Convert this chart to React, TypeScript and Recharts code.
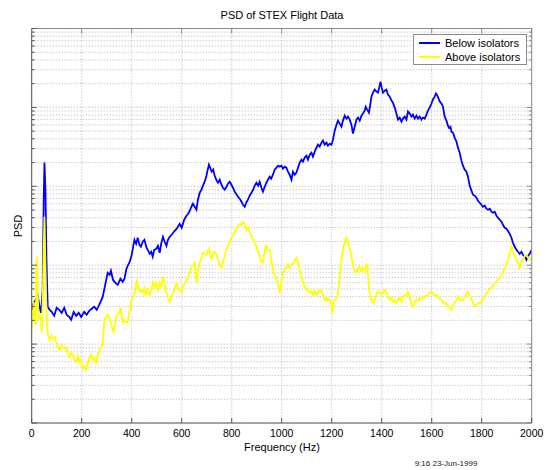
import React from 'react';
import { LineChart, Line, XAxis, YAxis, CartesianGrid, Legend } from 'recharts';

// Frequency (Hz), PSD
const belowIsolators: [number, number][] = [
  [0,0.0272],[8,0.0333],[16,0.0364],[24,0.0421],[30,0.0314],[37,0.0249],[44,0.0487],[48,0.676],[51,1.995],[55,0.906],[59,0.117],[64,0.0297],[72,0.0272],[80,0.0256],[90,0.0228],[100,0.0288],[110,0.0272],[120,0.0249],[130,0.0288],[140,0.0235],[150,0.0221],[158,0.0203],[168,0.0256],[178,0.0228],[188,0.0249],[198,0.0221],[210,0.0256],[220,0.0235],[230,0.0264],[240,0.028],[250,0.0297],[260,0.0272],[270,0.0314],[284,0.0397],[294,0.0564],[304,0.0801],[312,0.0755],[317,0.0849],[325,0.0653],[335,0.0598],[344,0.0564],[355,0.0672],[364,0.0616],[371,0.0672],[378,0.0875],[384,0.0983],[392,0.11],[400,0.1355],[411,0.21],[418,0.187],[424,0.223],[431,0.1815],[437,0.1714],[444,0.198],[451,0.21],[458,0.1714],[464,0.1567],[472,0.1396],[478,0.148],[484,0.128],[490,0.1567],[499,0.1615],[505,0.176],[512,0.1437],[518,0.187],[525,0.229],[532,0.198],[539,0.176],[545,0.21],[552,0.229],[560,0.243],[572,0.273],[580,0.29],[592,0.335],[600,0.298],[610,0.377],[619,0.424],[626,0.449],[632,0.49],[639,0.551],[645,0.601],[652,0.551],[659,0.505],[665,0.676],[672,0.83],[679,0.906],[685,1.018],[692,1.143],[699,1.361],[704,1.625],[709,1.88],[714,1.72],[720,1.53],[726,1.625],[732,1.361],[738,1.213],[745,1.11],[752,1.213],[759,1.047],[765,0.959],[772,0.906],[779,0.988],[785,1.079],[792,1.143],[799,1.047],[805,0.959],[812,0.854],[818,0.805],[825,0.738],[832,0.697],[839,0.638],[845,0.584],[852,0.551],[858,0.619],[865,0.676],[872,0.76],[879,0.83],[886,0.906],[892,1.018],[899,1.11],[906,1.018],[912,1.143],[919,0.959],[925,0.854],[932,0.988],[939,1.11],[945,1.213],[952,1.324],[958,1.248],[965,1.403],[972,1.625],[979,1.72],[986,1.824],[992,1.774],[999,1.824],[1005,1.671],[1012,1.774],[1019,1.72],[1025,1.53],[1032,1.403],[1039,1.213],[1045,1.53],[1052,1.403],[1059,1.489],[1065,1.72],[1072,1.995],[1079,2.18],[1085,2.05],[1092,2.31],[1099,2.44],[1105,2.18],[1112,2.52],[1119,2.67],[1125,2.38],[1132,2.75],[1139,3.09],[1145,3.37],[1152,3.18],[1159,3.57],[1165,3.79],[1172,3.37],[1179,3.57],[1185,3.27],[1192,3.47],[1199,3.37],[1205,3.9],[1212,5.07],[1218,5.87],[1225,6.8],[1232,6.22],[1239,5.7],[1245,6.8],[1252,7.87],[1259,7.21],[1265,7.64],[1272,7.0],[1279,6.05],[1285,4.65],[1292,5.7],[1299,7.0],[1305,7.43],[1312,6.8],[1319,7.87],[1325,8.34],[1332,9.1],[1336,10.2],[1342,9.38],[1349,8.59],[1355,11.2],[1359,13.7],[1365,15.4],[1372,16.8],[1379,15.9],[1385,15.4],[1390,17.8],[1395,21.2],[1400,17.8],[1405,15.4],[1412,16.3],[1419,16.8],[1425,14.5],[1432,13.7],[1439,12.2],[1445,11.5],[1452,9.94],[1459,8.34],[1465,7.0],[1472,7.43],[1479,6.61],[1485,7.21],[1492,7.64],[1499,7.0],[1505,8.85],[1512,8.34],[1519,7.64],[1525,8.11],[1532,7.21],[1539,7.87],[1545,7.21],[1552,7.64],[1559,7.0],[1565,7.43],[1572,7.21],[1579,8.11],[1585,9.1],[1592,9.94],[1599,11.2],[1605,12.6],[1612,13.7],[1617,15.0],[1621,14.5],[1626,13.3],[1632,11.9],[1639,11.2],[1645,10.2],[1652,7.64],[1659,6.8],[1665,5.87],[1669,5.54],[1675,5.7],[1679,4.93],[1685,4.79],[1692,4.14],[1699,3.68],[1705,3.09],[1712,2.67],[1719,2.11],[1725,1.824],[1732,1.625],[1739,1.53],[1745,1.324],[1752,1.018],[1758,0.906],[1765,0.782],[1772,0.76],[1779,0.717],[1785,0.656],[1792,0.619],[1799,0.584],[1805,0.551],[1812,0.567],[1819,0.52],[1825,0.505],[1832,0.52],[1839,0.476],[1845,0.462],[1852,0.476],[1859,0.424],[1865,0.4],[1872,0.377],[1879,0.356],[1885,0.326],[1892,0.298],[1899,0.29],[1905,0.273],[1912,0.25],[1919,0.223],[1925,0.192],[1932,0.1714],[1939,0.1567],[1945,0.148],[1952,0.1396],[1959,0.148],[1965,0.1355],[1972,0.128],[1979,0.117],[1985,0.1316],[1992,0.1396],[2000,0.1567]
];

const aboveIsolators: [number, number][] = [
  [0,0.0151],[4,0.0215],[8,0.0343],[12,0.0235],[16,0.0175],[20,0.128],[24,0.0487],[27,0.0203],[32,0.0228],[36,0.0215],[40,0.0139],[44,0.0364],[48,0.1567],[51,0.411],[54,0.1355],[58,0.0364],[62,0.0151],[66,0.0128],[71,0.0113],[78,0.0128],[84,0.0116],[92,0.0123],[100,0.01035],[111,0.00844],[120,0.00949],[130,0.00869],[137,0.00921],[144,0.00796],[151,0.00688],[158,0.00773],[165,0.0073],[171,0.00631],[177,0.00595],[184,0.00708],[190,0.00595],[197,0.00631],[204,0.00499],[210,0.00529],[217,0.00471],[224,0.00561],[231,0.00668],[237,0.0073],[244,0.00631],[250,0.00668],[257,0.00578],[264,0.00708],[271,0.00844],[277,0.00895],[284,0.00977],[288,0.0151],[291,0.0203],[298,0.0221],[304,0.0235],[310,0.0215],[316,0.0191],[322,0.0161],[328,0.0143],[333,0.0175],[337,0.0215],[344,0.0242],[351,0.0249],[356,0.0288],[361,0.0215],[366,0.0191],[371,0.0203],[378,0.0186],[384,0.0191],[391,0.0256],[397,0.0333],[403,0.0386],[408,0.0409],[414,0.0487],[421,0.0653],[427,0.0517],[432,0.046],[438,0.0487],[444,0.0447],[450,0.0517],[457,0.0421],[464,0.0487],[471,0.0421],[478,0.0487],[485,0.0598],[491,0.0517],[497,0.0598],[505,0.0487],[512,0.0598],[518,0.0532],[525,0.0713],[532,0.0564],[539,0.0447],[545,0.0386],[552,0.0343],[558,0.0397],[565,0.0447],[572,0.0501],[579,0.0598],[585,0.0517],[592,0.0473],[599,0.046],[605,0.0532],[612,0.058],[619,0.0634],[625,0.0692],[632,0.0825],[639,0.0927],[645,0.0983],[652,0.1072],[656,0.0755],[660,0.0598],[665,0.0825],[672,0.1072],[679,0.124],[685,0.1437],[692,0.1396],[699,0.1355],[705,0.1524],[709,0.1615],[714,0.1396],[719,0.117],[725,0.1396],[732,0.148],[739,0.1355],[745,0.117],[752,0.101],[759,0.0927],[765,0.11],[772,0.128],[779,0.1567],[785,0.176],[792,0.198],[799,0.223],[805,0.236],[812,0.265],[818,0.29],[825,0.316],[832,0.335],[839,0.326],[845,0.356],[849,0.345],[855,0.298],[859,0.281],[865,0.307],[872,0.265],[879,0.236],[885,0.21],[892,0.192],[899,0.1714],[905,0.148],[912,0.128],[918,0.11],[925,0.1072],[930,0.1396],[935,0.1714],[939,0.176],[945,0.1567],[952,0.1567],[958,0.117],[965,0.0875],[972,0.0733],[979,0.0672],[985,0.0581],[992,0.0447],[999,0.0616],[1005,0.0801],[1012,0.09],[1019,0.0954],[1025,0.101],[1032,0.0927],[1039,0.0983],[1045,0.1072],[1052,0.1137],[1059,0.124],[1065,0.11],[1072,0.0875],[1079,0.0713],[1085,0.0598],[1092,0.0532],[1099,0.0487],[1105,0.0501],[1112,0.0447],[1119,0.046],[1125,0.0421],[1132,0.0473],[1139,0.0421],[1145,0.046],[1152,0.0487],[1159,0.0487],[1165,0.0409],[1172,0.0364],[1179,0.0386],[1185,0.0353],[1192,0.0364],[1198,0.0333],[1203,0.0249],[1208,0.0343],[1214,0.0364],[1220,0.0386],[1225,0.0409],[1230,0.0616],[1235,0.0927],[1240,0.124],[1245,0.1567],[1250,0.187],[1255,0.21],[1259,0.223],[1265,0.198],[1270,0.1714],[1275,0.1567],[1280,0.124],[1285,0.101],[1290,0.0875],[1296,0.0801],[1302,0.0849],[1308,0.0954],[1313,0.09],[1319,0.0825],[1325,0.0927],[1332,0.0849],[1338,0.0983],[1342,0.101],[1346,0.0755],[1350,0.0487],[1356,0.0386],[1362,0.0343],[1368,0.0324],[1374,0.0386],[1379,0.0421],[1385,0.0473],[1392,0.0447],[1399,0.0421],[1405,0.0447],[1412,0.0487],[1419,0.0447],[1425,0.0397],[1432,0.0364],[1439,0.0386],[1445,0.0343],[1452,0.0364],[1459,0.0333],[1465,0.0364],[1472,0.0386],[1479,0.0343],[1485,0.0397],[1492,0.0421],[1499,0.0409],[1505,0.046],[1512,0.0397],[1519,0.0324],[1525,0.0297],[1532,0.0343],[1539,0.0364],[1545,0.0353],[1552,0.0386],[1559,0.0364],[1565,0.0386],[1572,0.0397],[1579,0.0409],[1585,0.0421],[1592,0.0447],[1599,0.046],[1605,0.0434],[1612,0.0409],[1619,0.0421],[1625,0.0397],[1632,0.0375],[1639,0.0364],[1645,0.0343],[1652,0.0324],[1659,0.0333],[1665,0.0305],[1672,0.0288],[1679,0.0272],[1685,0.0305],[1692,0.0333],[1699,0.0364],[1705,0.0397],[1712,0.0375],[1719,0.0353],[1725,0.0364],[1732,0.0397],[1739,0.0434],[1745,0.046],[1752,0.0421],[1759,0.0375],[1765,0.0333],[1772,0.0305],[1779,0.0314],[1785,0.0324],[1792,0.0333],[1799,0.0333],[1805,0.0364],[1812,0.0409],[1819,0.0447],[1825,0.046],[1832,0.0501],[1839,0.0517],[1845,0.0548],[1852,0.0598],[1859,0.0616],[1865,0.0653],[1872,0.0692],[1879,0.0713],[1885,0.0825],[1892,0.0927],[1899,0.101],[1905,0.117],[1912,0.1396],[1919,0.1714],[1925,0.148],[1932,0.128],[1939,0.117],[1945,0.11],[1952,0.0927],[1959,0.11],[1965,0.117],[1972,0.1316],[1979,0.1355],[1985,0.124],[1992,0.117],[2000,0.128]
];

const freqTicks = [0, 200, 400, 600, 800, 1000, 1200, 1400, 1600, 1800, 2000];
const psdDecades = [0.001, 0.01, 0.1, 1, 10];
const psdMultipliers = [1, 2, 3, 4, 5, 6, 7, 8, 9];
const psdTicks = [...psdDecades.flatMap((d) => psdMultipliers.map((m) => +(d * m).toPrecision(6))), 100];

const seriesNames = ['Below isolators', 'Above isolators'];
const seriesColors = ['#0000ff', '#ffff00'];

const TITLE = 'PSD of STEX Flight Data';
const X_LABEL = 'Frequency (Hz)';
const Y_LABEL = 'PSD';
const STAMP = '9:16 23-Jun-1999';

const belowData = belowIsolators.map(([f, v]) => ({ f, v }));
const aboveData = aboveIsolators.map(([f, v]) => ({ f, v }));

const FONT = '"Liberation Sans", Arial, Helvetica, sans-serif';
const AXIS_DARK = '#555555';
const AXIS_LIGHT = '#8a8a8a';

const isMajor = (v: number) => Math.abs(Math.log10(v) - Math.round(Math.log10(v))) < 1e-6;

const BottomTick = (props: any) => {
  const { x, y, payload } = props;
  return (
    <g>
      <line x1={x} y1={y} x2={x} y2={y - 5} stroke={AXIS_DARK} strokeWidth={1} />
      <text x={x} y={y + 10} textAnchor="middle" dominantBaseline="central" fontSize={10.5} fontFamily={FONT} fill="#000">
        {payload.value}
      </text>
    </g>
  );
};

const TopTick = (props: any) => {
  const { x, y } = props;
  return <line x1={x} y1={y} x2={x} y2={y + 5} stroke={AXIS_LIGHT} strokeWidth={1} />;
};

const LeftTick = (props: any) => {
  const { x, y, payload } = props;
  const len = isMajor(payload.value) ? 5 : 3;
  return <line x1={x} y1={y} x2={x + len} y2={y} stroke={AXIS_DARK} strokeWidth={1} />;
};

const RightTick = (props: any) => {
  const { x, y, payload } = props;
  const len = isMajor(payload.value) ? 5 : 3;
  return <line x1={x} y1={y} x2={x - len} y2={y} stroke={AXIS_LIGHT} strokeWidth={1} />;
};

const LegendBox = (props: any) => {
  const items = [...(props.payload || [])].sort(
    (a: any, b: any) => seriesNames.indexOf(a.value) - seriesNames.indexOf(b.value)
  );
  return (
    <div
      style={{
        border: '1px solid #8c8c8c',
        background: '#fff',
        boxSizing: 'border-box',
        width: 114,
        height: 31,
        padding: '1px 0 0 5px',
        fontFamily: FONT,
      }}
    >
      {items.map((e: any) => (
        <div key={e.value} style={{ display: 'flex', alignItems: 'center', height: 14 }}>
          <span style={{ display: 'inline-block', width: 21, height: 2, background: e.color, marginRight: 5 }} />
          <span style={{ fontSize: 11, color: '#000', whiteSpace: 'nowrap' }}>{e.value}</span>
        </div>
      ))}
    </div>
  );
};

export default function App() {
  const W = 548;
  const H = 470;
  return (
    <div style={{ position: 'absolute', left: 0, top: 0, width: W, height: H, background: '#fff' }}>
      <LineChart width={W} height={H} margin={{ top: 27.5, right: 15.3, bottom: 46, left: 30.7 }}>
        <CartesianGrid xAxisId="b" yAxisId="l" stroke="#b2b2b2" strokeDasharray="1 2" strokeWidth={1} />
        <XAxis
          xAxisId="b"
          dataKey="f"
          type="number"
          domain={[0, 2000]}
          ticks={freqTicks}
          interval={0}
          height={1}
          tickSize={0}
          tickMargin={0}
          tickLine={false}
          axisLine={{ stroke: AXIS_DARK }}
          tick={<BottomTick />}
          allowDataOverflow
        />
        <XAxis
          xAxisId="t"
          orientation="top"
          dataKey="f"
          type="number"
          domain={[0, 2000]}
          ticks={freqTicks}
          interval={0}
          height={1}
          tickSize={0}
          tickMargin={0}
          tickLine={false}
          axisLine={{ stroke: AXIS_LIGHT }}
          tick={<TopTick />}
          allowDataOverflow
        />
        <YAxis
          yAxisId="l"
          scale="log"
          type="number"
          domain={[0.001, 100]}
          ticks={psdTicks}
          interval={0}
          width={1}
          tickSize={0}
          tickMargin={0}
          tickLine={false}
          axisLine={{ stroke: AXIS_DARK }}
          tick={<LeftTick />}
          allowDataOverflow
        />
        <YAxis
          yAxisId="r"
          orientation="right"
          scale="log"
          type="number"
          domain={[0.001, 100]}
          ticks={psdTicks}
          interval={0}
          width={1}
          tickSize={0}
          tickMargin={0}
          tickLine={false}
          axisLine={{ stroke: AXIS_LIGHT }}
          tick={<RightTick />}
          allowDataOverflow
        />
        <Legend
          layout="vertical"
          align="center"
          verticalAlign="middle"
          content={<LegendBox />}
          wrapperStyle={{ left: 413, top: 34, width: 114, height: 31 }}
        />
        <Line
          xAxisId="b"
          yAxisId="l"
          data={belowData}
          dataKey="v"
          name={seriesNames[0]}
          stroke={seriesColors[0]}
          strokeWidth={1.8}
          dot={false}
          activeDot={false}
          isAnimationActive={false}
          type="linear"
        />
        <Line
          xAxisId="t"
          yAxisId="r"
          data={aboveData}
          dataKey="v"
          name={seriesNames[1]}
          stroke={seriesColors[1]}
          strokeWidth={1.8}
          dot={false}
          activeDot={false}
          isAnimationActive={false}
          type="linear"
        />
      </LineChart>
      <svg
        width={W}
        height={H}
        style={{ position: 'absolute', left: 0, top: 0, pointerEvents: 'none' }}
        fontFamily={FONT}
      >
        <text x={282} y={15} textAnchor="middle" dominantBaseline="central" fontSize={11} fill="#000">
          {TITLE}
        </text>
        <text x={282} y={446.5} textAnchor="middle" dominantBaseline="central" fontSize={11} fill="#000">
          {X_LABEL}
        </text>
        <text
          x={18}
          y={226}
          textAnchor="middle"
          dominantBaseline="central"
          fontSize={11}
          fill="#000"
          transform="rotate(-90, 18, 226)"
        >
          {Y_LABEL}
        </text>
        <text x={446} y={463} textAnchor="middle" dominantBaseline="central" fontSize={8} fill="#222">
          {STAMP}
        </text>
      </svg>
    </div>
  );
}
